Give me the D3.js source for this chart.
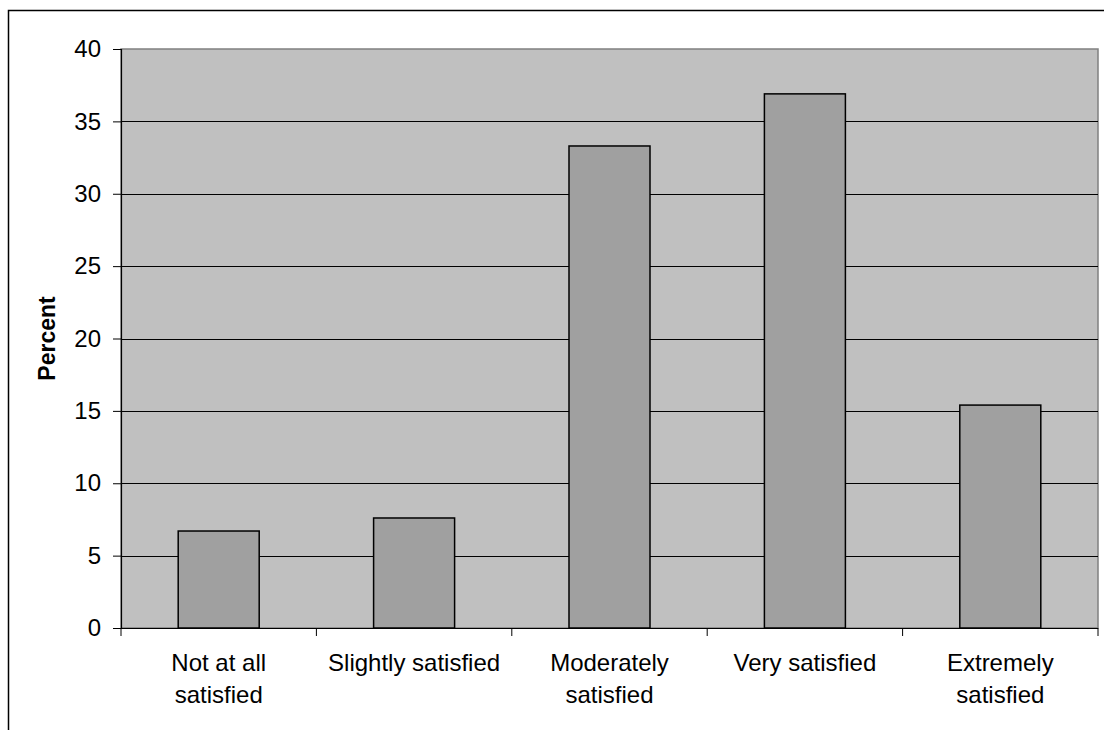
<!DOCTYPE html>
<html><head><meta charset="utf-8">
<script src="https://cdn.jsdelivr.net/npm/d3@7"></script>
<style>body{margin:0;background:#fff;}svg{display:block;}</style>
</head><body>
<script>
const categories = [["Not at all","satisfied"],["Slightly satisfied"],["Moderately","satisfied"],["Very satisfied"],["Extremely","satisfied"]];
const values = [6.7, 7.6, 33.3, 36.9, 15.4];
const yTicks = [0,5,10,15,20,25,30,35,40];
const yLabel = "Percent";

const W=1104,H=730;
const L=121,R=1098,T=49,B=628;
const FONT="Liberation Sans, Arial, sans-serif";
const svg=d3.select("body").append("svg").attr("width",W).attr("height",H);
svg.append("rect").attr("x",8.5).attr("y",10.5).attr("width",W).attr("height",H).attr("fill","#fff").attr("stroke","#000").attr("stroke-width",1.5);

const x=d3.scaleBand().domain(d3.range(categories.length)).range([L,R]);
const y=d3.scaleLinear().domain([0,40]).range([B,T]);

svg.append("rect").attr("x",L).attr("y",T).attr("width",R-L).attr("height",B-T).attr("fill","#c0c0c0").attr("stroke","#808080").attr("stroke-width",1.5);

svg.append("g").selectAll("line").data(yTicks.filter(d=>d>0&&d<40)).join("line")
 .attr("x1",L).attr("x2",R).attr("y1",d=>Math.round(y(d))+0.5).attr("y2",d=>Math.round(y(d))+0.5)
 .attr("stroke","#000").attr("stroke-width",1);

const bw=81;
svg.append("g").selectAll("rect").data(values).join("rect")
 .attr("x",(d,i)=>x(i)+x.bandwidth()/2-bw/2).attr("width",bw)
 .attr("y",d=>y(d)).attr("height",d=>B-y(d))
 .attr("fill","#a0a0a0").attr("stroke","#000").attr("stroke-width",1.5);

// y axis
const ya=svg.append("g").attr("transform",`translate(${L},0)`)
 .call(d3.axisLeft(y).tickValues(yTicks).tickSize(8).tickPadding(12));
ya.attr("font-size",null).attr("font-family",null);
ya.select(".domain").attr("stroke","#000").attr("stroke-width",1.2);
ya.selectAll("line").attr("stroke","#000");
ya.selectAll("text").style("font-family",FONT).style("font-size","24px").attr("fill","#000");

// x axis
svg.append("line").attr("x1",L).attr("x2",R).attr("y1",B+0.5).attr("y2",B+0.5).attr("stroke","#000").attr("stroke-width",1.2);
svg.append("g").selectAll("line").data(d3.range(categories.length+1)).join("line")
 .attr("x1",i=>i<categories.length?x(i):R).attr("x2",i=>i<categories.length?x(i):R)
 .attr("y1",B).attr("y2",B+8).attr("stroke","#000");

const xl=svg.append("g").selectAll("text").data(categories).join("text")
 .attr("text-anchor","middle").style("font-family",FONT).style("font-size","24px").attr("fill","#000")
 .attr("transform",(d,i)=>`translate(${x(i)+x.bandwidth()/2},671)`);
xl.selectAll("tspan").data(d=>d).join("tspan").attr("x",0).attr("dy",(d,j)=>j?32:0).text(d=>d);

svg.append("text").attr("transform",`translate(55,${(T+B)/2}) rotate(-90)`).attr("text-anchor","middle")
 .style("font-family",FONT).style("font-size","23px").attr("font-weight","bold").text(yLabel);
</script>
</body></html>
